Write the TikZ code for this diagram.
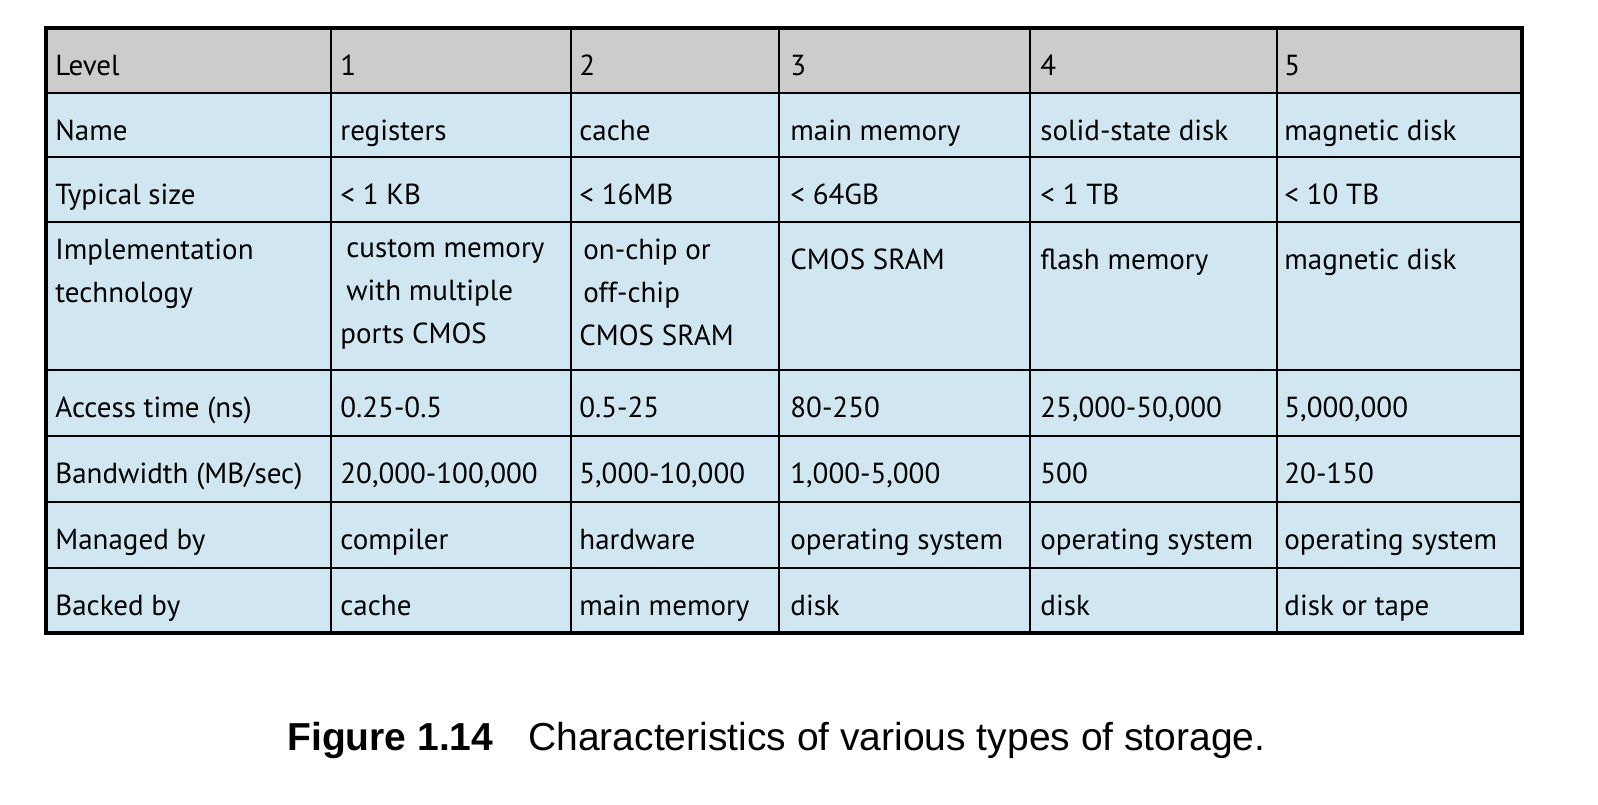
\documentclass[tikz,border=0pt]{standalone}
\usepackage{fontspec}
\setmainfont{PT Sans}
\newfontfamily\capfont{Liberation Sans}
\definecolor{headgray}{RGB}{204,204,204}
\definecolor{cellblue}{RGB}{208,230,240}
\tikzset{
  cell/.style={anchor=north west,inner sep=0pt,align=left,font=\fontsize{14.5}{21.5}\selectfont,
    execute at begin node=\strut},
  rule/.style={line width=1pt},
}
\begin{document}
\begin{tikzpicture}[x=0.5pt,y=-0.5pt]
  \useasboundingbox (0,0) rectangle (1598,804);
  % backgrounds
  \fill[headgray] (46,28) rectangle (1522,93);
  \fill[cellblue] (46,93) rectangle (1522,633);
  % grid
  \foreach \y in {93,157,222,370,436,502,568}
    \draw[rule] (46,\y) -- (1522,\y);
  \foreach \x in {331,571,779,1030,1277}
    \draw[rule] (\x,28) -- (\x,633);
  \draw[line width=1.6pt] (46,28) rectangle (1522,633);
  % cells
  \foreach \r/\y/\a/\b/\c/\d/\e/\f in {
    0/28/Level/1/2/3/4/5,
    1/93/Name/registers/cache/main memory/solid-state disk/magnetic disk,
    2/157/Typical size/< 1 KB/< 16MB/< 64GB/< 1 TB/< 10 TB,
    3/222/{Implementation\\technology}/{\hspace{3pt}custom memory\\\hspace{3pt}with multiple\\ports CMOS}/{\hspace{2pt}on-chip or\\\hspace{2pt}off-chip\\CMOS SRAM}/CMOS SRAM/flash memory/magnetic disk,
    4/370/Access time (ns)/0.25-0.5/0.5-25/80-250/{25,000-50,000}/{5,000,000},
    5/436/{Bandwidth (MB/sec)}/{20,000-100,000}/{5,000-10,000}/{1,000-5,000}/500/20-150,
    6/502/Managed by/compiler/hardware/operating system/operating system/operating system,
    7/568/Backed by/cache/main memory/disk/disk/disk or tape} {
    \node[cell] (c\r a) at (55,\y+17) {\a};
    \node[cell] (c\r b) at (340,\y+17) {\b};
    \node[cell] (c\r c) at (579,\y+17) {\c};
    \node[cell] (c\r d) at (790,\y+17) {\d};
    \node[cell] (c\r e) at (1040,\y+17) {\e};
    \node[cell] (c\r f) at (1284,\y+17) {\f};
  }
  % caption
  \node[anchor=base west,inner sep=0pt,font=\capfont\fontsize{19.5}{22}\selectfont] (caption) at (287,750)
    {\textbf{Figure 1.14}\hspace{0.9em}Characteristics of various types of storage.};
\end{tikzpicture}
\end{document}
